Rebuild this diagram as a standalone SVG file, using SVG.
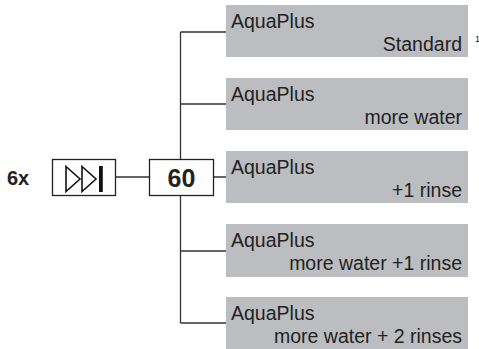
<svg xmlns="http://www.w3.org/2000/svg" width="479" height="349" viewBox="0 0 479 349">
<style>
.box{fill:#bcbdc0;stroke:none}
.frame{fill:#fff;stroke:#222;stroke-width:1.3}
.ln{fill:none;stroke:#333;stroke-width:1.3}
.t{font-family:"Liberation Sans",Arial,sans-serif;font-size:19.5px;fill:#222}
.r{text-anchor:end}
.b{font-family:"Liberation Sans",Arial,sans-serif;font-weight:bold;fill:#222}
</style>
<rect width="479" height="349" fill="#fff"/>
<g id="connectors">
<path class="ln" d="M180.5 32V159.5M180.5 195.5V323M180.5 32H226M180.5 104H226M180.5 251H226M180.5 323H226M115.5 177H149.5M213.5 177H226"/>
</g>
<g id="label-6x"><text class="b" x="7" y="185" font-size="20">6x</text></g>
<g id="skip">
<rect class="frame" x="52.5" y="159.5" width="63" height="36"/>
<path d="M66 166.5L80 179L66 191.5Z M82 166.5L96 179L82 191.5Z" fill="none" stroke="#111" stroke-width="1.6" stroke-linejoin="miter"/>
<rect x="99" y="166" width="3.8" height="26" fill="#111"/>
</g>
<g id="n60">
<rect class="frame" x="149.5" y="159.5" width="64" height="36"/>
<text class="b" x="181.5" y="187" font-size="25" text-anchor="middle">60</text>
</g>
<g id="opt1">
<rect class="box" x="226" y="5" width="242" height="52"/>
<text class="t" x="231" y="27.5">AquaPlus</text>
<text class="t r" x="462" y="50.5">Standard</text>
</g>
<g id="note"><text x="475" y="42" font-family="Liberation Sans,Arial,sans-serif" font-size="9" fill="#222">1</text></g>
<g id="opt2">
<rect class="box" x="226" y="78" width="242" height="52"/>
<text class="t" x="231" y="100.5">AquaPlus</text>
<text class="t r" x="462" y="123.5">more water</text>
</g>
<g id="opt3">
<rect class="box" x="226" y="151" width="242" height="52"/>
<text class="t" x="231" y="173.5">AquaPlus</text>
<text class="t r" x="462" y="196.5">+1 rinse</text>
</g>
<g id="opt4">
<rect class="box" x="226" y="224" width="242" height="53"/>
<text class="t" x="231" y="246.5">AquaPlus</text>
<text class="t r" x="462" y="269.5">more water +1 rinse</text>
</g>
<g id="opt5">
<rect class="box" x="226" y="297" width="242" height="52"/>
<text class="t" x="231" y="319.5">AquaPlus</text>
<text class="t r" x="462" y="342.5">more water + 2 rinses</text>
</g>
</svg>
